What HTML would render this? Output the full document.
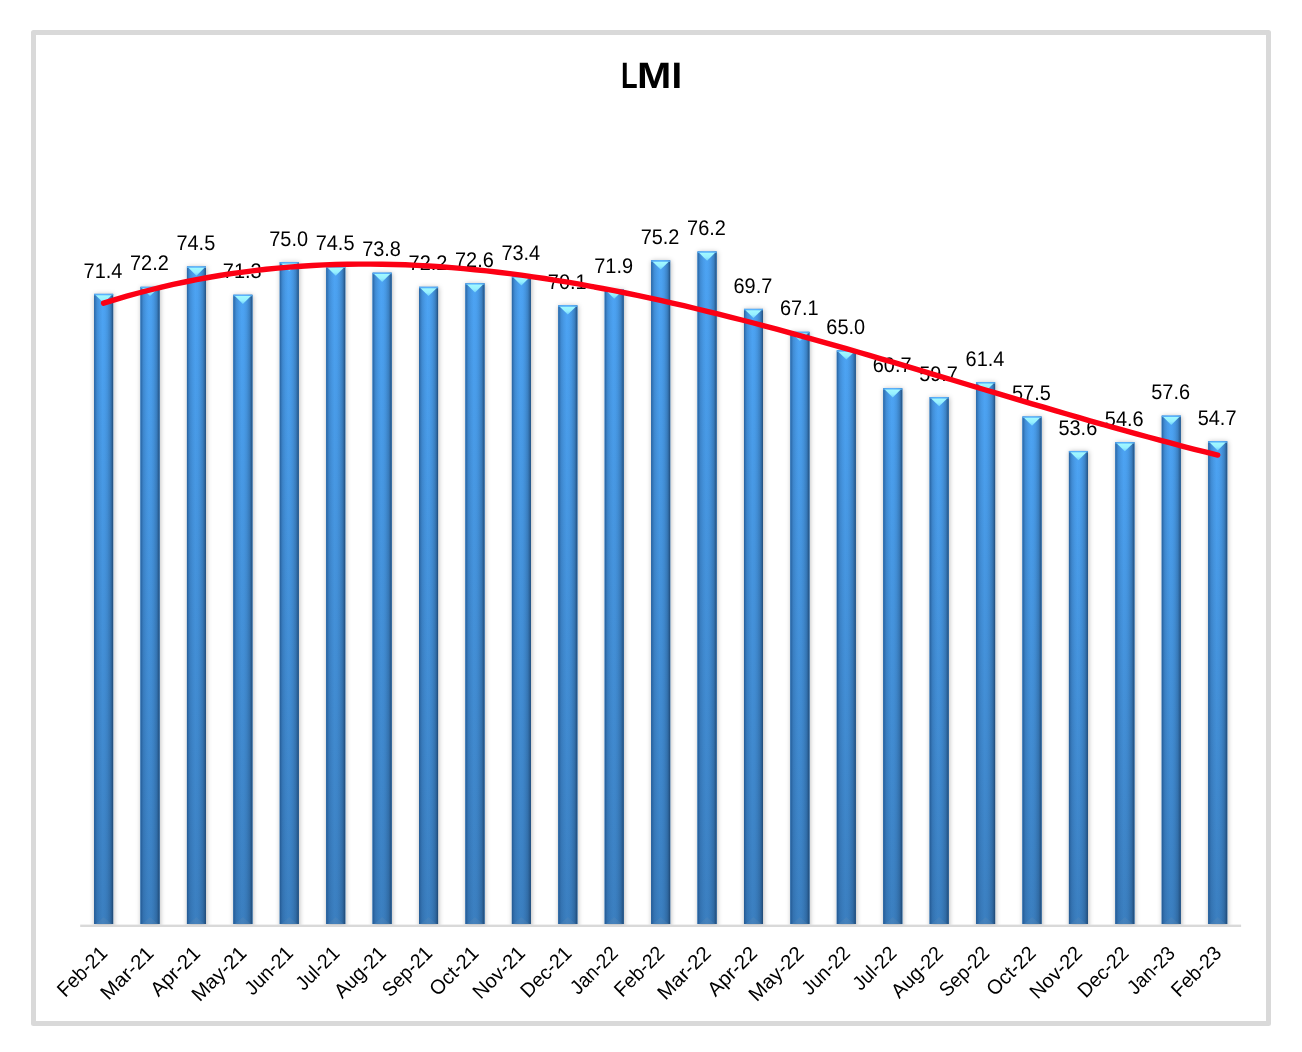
<!DOCTYPE html>
<html><head><meta charset="utf-8"><title>LMI</title>
<style>
html,body{margin:0;padding:0;background:#fff;}
body{width:1302px;height:1052px;overflow:hidden;position:relative;font-family:"Liberation Sans",sans-serif;}
svg{position:absolute;left:0;top:0;display:block;will-change:transform;}
text{font-family:"Liberation Sans",sans-serif;fill:#000;text-rendering:geometricPrecision;}
.dl{font-size:21.2px;text-anchor:middle;}
.cl{font-size:20.2px;text-anchor:end;}
.ttl{font-size:35.5px;font-weight:bold;text-anchor:middle;}
</style></head><body>
<svg width="1302" height="1052" viewBox="0 0 1302 1052">
<defs>
<linearGradient id="gv" x1="0" y1="0" x2="0" y2="1" gradientUnits="objectBoundingBox">
<stop offset="0" stop-color="#4da4f4"/><stop offset="1" stop-color="#3b7fc0"/>
</linearGradient>
<linearGradient id="gh" x1="0" y1="0" x2="1" y2="0">
<stop offset="0" stop-color="#17457a" stop-opacity="0.7"/>
<stop offset="0.07" stop-color="#1b4a80" stop-opacity="0.48"/>
<stop offset="0.16" stop-color="#1f4f85" stop-opacity="0.26"/>
<stop offset="0.3" stop-color="#1f4f85" stop-opacity="0.1"/>
<stop offset="0.44" stop-color="#1f4f85" stop-opacity="0"/>
<stop offset="0.56" stop-color="#1f4f85" stop-opacity="0.03"/>
<stop offset="0.7" stop-color="#1c446f" stop-opacity="0.14"/>
<stop offset="0.84" stop-color="#1c446f" stop-opacity="0.34"/>
<stop offset="0.93" stop-color="#1a3f68" stop-opacity="0.58"/>
<stop offset="1" stop-color="#183a60" stop-opacity="0.82"/>
</linearGradient>
<linearGradient id="gt" x1="0" y1="0" x2="0" y2="1">
<stop offset="0" stop-color="#a2f9ff"/><stop offset="0.55" stop-color="#96f0ff"/><stop offset="1" stop-color="#6fd0fb"/>
</linearGradient>
<filter id="sh" x="-60%" y="-5%" width="220%" height="110%">
<feGaussianBlur stdDeviation="2.4"/>
</filter>
<filter id="noop" x="0" y="0" width="1302" height="1052" filterUnits="userSpaceOnUse"><feOffset dx="0" dy="0"/></filter>
<clipPath id="cpb"><rect x="0" y="0" width="1302" height="924.6"/></clipPath>
</defs>
<rect x="33.5" y="32.5" width="1235" height="991" fill="#fff" stroke="#d9d9d9" stroke-width="5" stroke-linejoin="round"/>

<rect x="80.2" y="924.6" width="1160.9" height="2.4" fill="#d9d9d9"/>
<g clip-path="url(#cpb)"><g filter="url(#sh)" fill="#000" fill-opacity="0.3">
<rect x="94.71" y="294.39" width="19.00" height="639.61"/>
<rect x="141.13" y="287.34" width="19.00" height="646.66"/>
<rect x="187.55" y="267.04" width="19.00" height="666.96"/>
<rect x="233.97" y="295.28" width="19.00" height="638.72"/>
<rect x="280.39" y="262.62" width="19.00" height="671.38"/>
<rect x="326.81" y="267.04" width="19.00" height="666.96"/>
<rect x="373.23" y="273.22" width="19.00" height="660.78"/>
<rect x="419.65" y="287.34" width="19.00" height="646.66"/>
<rect x="466.07" y="283.81" width="19.00" height="650.19"/>
<rect x="512.49" y="276.75" width="19.00" height="657.25"/>
<rect x="558.91" y="305.87" width="19.00" height="628.13"/>
<rect x="605.33" y="289.98" width="19.00" height="644.02"/>
<rect x="651.75" y="260.86" width="19.00" height="673.14"/>
<rect x="698.17" y="252.04" width="19.00" height="681.96"/>
<rect x="744.59" y="309.40" width="19.00" height="624.60"/>
<rect x="791.01" y="332.34" width="19.00" height="601.66"/>
<rect x="837.43" y="350.88" width="19.00" height="583.12"/>
<rect x="883.85" y="388.82" width="19.00" height="545.18"/>
<rect x="930.27" y="397.65" width="19.00" height="536.35"/>
<rect x="976.69" y="382.65" width="19.00" height="551.35"/>
<rect x="1023.11" y="417.06" width="19.00" height="516.94"/>
<rect x="1069.53" y="451.48" width="19.00" height="482.52"/>
<rect x="1115.95" y="442.66" width="19.00" height="491.34"/>
<rect x="1162.37" y="416.18" width="19.00" height="517.82"/>
<rect x="1208.79" y="441.77" width="19.00" height="492.23"/>
</g></g>
<g transform="translate(94.11,293.89)">
<rect width="19.0" height="630.11" fill="#4da4f4"/>
<rect width="19.0" height="630.11" fill="url(#gv)"/>
<rect width="19.0" height="630.11" fill="url(#gh)"/>
<rect width="19.0" height="1.5" fill="#5cb6ff" fill-opacity="0.85"/>
<polygon points="1.5,1.3 17.5,1.3 9.5,9.2" fill="url(#gt)"/>
<polygon points="1.5,630.11 17.5,630.11 9.5,623.11" fill="#6b8fb0" fill-opacity="0.22"/>
</g>
<g transform="translate(140.53,286.84)">
<rect width="19.0" height="637.16" fill="#4da4f4"/>
<rect width="19.0" height="637.16" fill="url(#gv)"/>
<rect width="19.0" height="637.16" fill="url(#gh)"/>
<rect width="19.0" height="1.5" fill="#5cb6ff" fill-opacity="0.85"/>
<polygon points="1.5,1.3 17.5,1.3 9.5,9.2" fill="url(#gt)"/>
<polygon points="1.5,637.16 17.5,637.16 9.5,630.16" fill="#6b8fb0" fill-opacity="0.22"/>
</g>
<g transform="translate(186.95,266.54)">
<rect width="19.0" height="657.46" fill="#4da4f4"/>
<rect width="19.0" height="657.46" fill="url(#gv)"/>
<rect width="19.0" height="657.46" fill="url(#gh)"/>
<rect width="19.0" height="1.5" fill="#5cb6ff" fill-opacity="0.85"/>
<polygon points="1.5,1.3 17.5,1.3 9.5,9.2" fill="url(#gt)"/>
<polygon points="1.5,657.46 17.5,657.46 9.5,650.46" fill="#6b8fb0" fill-opacity="0.22"/>
</g>
<g transform="translate(233.37,294.78)">
<rect width="19.0" height="629.22" fill="#4da4f4"/>
<rect width="19.0" height="629.22" fill="url(#gv)"/>
<rect width="19.0" height="629.22" fill="url(#gh)"/>
<rect width="19.0" height="1.5" fill="#5cb6ff" fill-opacity="0.85"/>
<polygon points="1.5,1.3 17.5,1.3 9.5,9.2" fill="url(#gt)"/>
<polygon points="1.5,629.22 17.5,629.22 9.5,622.22" fill="#6b8fb0" fill-opacity="0.22"/>
</g>
<g transform="translate(279.79,262.12)">
<rect width="19.0" height="661.88" fill="#4da4f4"/>
<rect width="19.0" height="661.88" fill="url(#gv)"/>
<rect width="19.0" height="661.88" fill="url(#gh)"/>
<rect width="19.0" height="1.5" fill="#5cb6ff" fill-opacity="0.85"/>
<polygon points="1.5,1.3 17.5,1.3 9.5,9.2" fill="url(#gt)"/>
<polygon points="1.5,661.88 17.5,661.88 9.5,654.88" fill="#6b8fb0" fill-opacity="0.22"/>
</g>
<g transform="translate(326.21,266.54)">
<rect width="19.0" height="657.46" fill="#4da4f4"/>
<rect width="19.0" height="657.46" fill="url(#gv)"/>
<rect width="19.0" height="657.46" fill="url(#gh)"/>
<rect width="19.0" height="1.5" fill="#5cb6ff" fill-opacity="0.85"/>
<polygon points="1.5,1.3 17.5,1.3 9.5,9.2" fill="url(#gt)"/>
<polygon points="1.5,657.46 17.5,657.46 9.5,650.46" fill="#6b8fb0" fill-opacity="0.22"/>
</g>
<g transform="translate(372.63,272.72)">
<rect width="19.0" height="651.28" fill="#4da4f4"/>
<rect width="19.0" height="651.28" fill="url(#gv)"/>
<rect width="19.0" height="651.28" fill="url(#gh)"/>
<rect width="19.0" height="1.5" fill="#5cb6ff" fill-opacity="0.85"/>
<polygon points="1.5,1.3 17.5,1.3 9.5,9.2" fill="url(#gt)"/>
<polygon points="1.5,651.28 17.5,651.28 9.5,644.28" fill="#6b8fb0" fill-opacity="0.22"/>
</g>
<g transform="translate(419.05,286.84)">
<rect width="19.0" height="637.16" fill="#4da4f4"/>
<rect width="19.0" height="637.16" fill="url(#gv)"/>
<rect width="19.0" height="637.16" fill="url(#gh)"/>
<rect width="19.0" height="1.5" fill="#5cb6ff" fill-opacity="0.85"/>
<polygon points="1.5,1.3 17.5,1.3 9.5,9.2" fill="url(#gt)"/>
<polygon points="1.5,637.16 17.5,637.16 9.5,630.16" fill="#6b8fb0" fill-opacity="0.22"/>
</g>
<g transform="translate(465.47,283.31)">
<rect width="19.0" height="640.69" fill="#4da4f4"/>
<rect width="19.0" height="640.69" fill="url(#gv)"/>
<rect width="19.0" height="640.69" fill="url(#gh)"/>
<rect width="19.0" height="1.5" fill="#5cb6ff" fill-opacity="0.85"/>
<polygon points="1.5,1.3 17.5,1.3 9.5,9.2" fill="url(#gt)"/>
<polygon points="1.5,640.69 17.5,640.69 9.5,633.69" fill="#6b8fb0" fill-opacity="0.22"/>
</g>
<g transform="translate(511.89,276.25)">
<rect width="19.0" height="647.75" fill="#4da4f4"/>
<rect width="19.0" height="647.75" fill="url(#gv)"/>
<rect width="19.0" height="647.75" fill="url(#gh)"/>
<rect width="19.0" height="1.5" fill="#5cb6ff" fill-opacity="0.85"/>
<polygon points="1.5,1.3 17.5,1.3 9.5,9.2" fill="url(#gt)"/>
<polygon points="1.5,647.75 17.5,647.75 9.5,640.75" fill="#6b8fb0" fill-opacity="0.22"/>
</g>
<g transform="translate(558.31,305.37)">
<rect width="19.0" height="618.63" fill="#4da4f4"/>
<rect width="19.0" height="618.63" fill="url(#gv)"/>
<rect width="19.0" height="618.63" fill="url(#gh)"/>
<rect width="19.0" height="1.5" fill="#5cb6ff" fill-opacity="0.85"/>
<polygon points="1.5,1.3 17.5,1.3 9.5,9.2" fill="url(#gt)"/>
<polygon points="1.5,618.63 17.5,618.63 9.5,611.63" fill="#6b8fb0" fill-opacity="0.22"/>
</g>
<g transform="translate(604.73,289.48)">
<rect width="19.0" height="634.52" fill="#4da4f4"/>
<rect width="19.0" height="634.52" fill="url(#gv)"/>
<rect width="19.0" height="634.52" fill="url(#gh)"/>
<rect width="19.0" height="1.5" fill="#5cb6ff" fill-opacity="0.85"/>
<polygon points="1.5,1.3 17.5,1.3 9.5,9.2" fill="url(#gt)"/>
<polygon points="1.5,634.52 17.5,634.52 9.5,627.52" fill="#6b8fb0" fill-opacity="0.22"/>
</g>
<g transform="translate(651.15,260.36)">
<rect width="19.0" height="663.64" fill="#4da4f4"/>
<rect width="19.0" height="663.64" fill="url(#gv)"/>
<rect width="19.0" height="663.64" fill="url(#gh)"/>
<rect width="19.0" height="1.5" fill="#5cb6ff" fill-opacity="0.85"/>
<polygon points="1.5,1.3 17.5,1.3 9.5,9.2" fill="url(#gt)"/>
<polygon points="1.5,663.64 17.5,663.64 9.5,656.64" fill="#6b8fb0" fill-opacity="0.22"/>
</g>
<g transform="translate(697.57,251.54)">
<rect width="19.0" height="672.46" fill="#4da4f4"/>
<rect width="19.0" height="672.46" fill="url(#gv)"/>
<rect width="19.0" height="672.46" fill="url(#gh)"/>
<rect width="19.0" height="1.5" fill="#5cb6ff" fill-opacity="0.85"/>
<polygon points="1.5,1.3 17.5,1.3 9.5,9.2" fill="url(#gt)"/>
<polygon points="1.5,672.46 17.5,672.46 9.5,665.46" fill="#6b8fb0" fill-opacity="0.22"/>
</g>
<g transform="translate(743.99,308.90)">
<rect width="19.0" height="615.10" fill="#4da4f4"/>
<rect width="19.0" height="615.10" fill="url(#gv)"/>
<rect width="19.0" height="615.10" fill="url(#gh)"/>
<rect width="19.0" height="1.5" fill="#5cb6ff" fill-opacity="0.85"/>
<polygon points="1.5,1.3 17.5,1.3 9.5,9.2" fill="url(#gt)"/>
<polygon points="1.5,615.10 17.5,615.10 9.5,608.10" fill="#6b8fb0" fill-opacity="0.22"/>
</g>
<g transform="translate(790.41,331.84)">
<rect width="19.0" height="592.16" fill="#4da4f4"/>
<rect width="19.0" height="592.16" fill="url(#gv)"/>
<rect width="19.0" height="592.16" fill="url(#gh)"/>
<rect width="19.0" height="1.5" fill="#5cb6ff" fill-opacity="0.85"/>
<polygon points="1.5,1.3 17.5,1.3 9.5,9.2" fill="url(#gt)"/>
<polygon points="1.5,592.16 17.5,592.16 9.5,585.16" fill="#6b8fb0" fill-opacity="0.22"/>
</g>
<g transform="translate(836.83,350.38)">
<rect width="19.0" height="573.62" fill="#4da4f4"/>
<rect width="19.0" height="573.62" fill="url(#gv)"/>
<rect width="19.0" height="573.62" fill="url(#gh)"/>
<rect width="19.0" height="1.5" fill="#5cb6ff" fill-opacity="0.85"/>
<polygon points="1.5,1.3 17.5,1.3 9.5,9.2" fill="url(#gt)"/>
<polygon points="1.5,573.62 17.5,573.62 9.5,566.62" fill="#6b8fb0" fill-opacity="0.22"/>
</g>
<g transform="translate(883.25,388.32)">
<rect width="19.0" height="535.68" fill="#4da4f4"/>
<rect width="19.0" height="535.68" fill="url(#gv)"/>
<rect width="19.0" height="535.68" fill="url(#gh)"/>
<rect width="19.0" height="1.5" fill="#5cb6ff" fill-opacity="0.85"/>
<polygon points="1.5,1.3 17.5,1.3 9.5,9.2" fill="url(#gt)"/>
<polygon points="1.5,535.68 17.5,535.68 9.5,528.68" fill="#6b8fb0" fill-opacity="0.22"/>
</g>
<g transform="translate(929.67,397.15)">
<rect width="19.0" height="526.85" fill="#4da4f4"/>
<rect width="19.0" height="526.85" fill="url(#gv)"/>
<rect width="19.0" height="526.85" fill="url(#gh)"/>
<rect width="19.0" height="1.5" fill="#5cb6ff" fill-opacity="0.85"/>
<polygon points="1.5,1.3 17.5,1.3 9.5,9.2" fill="url(#gt)"/>
<polygon points="1.5,526.85 17.5,526.85 9.5,519.85" fill="#6b8fb0" fill-opacity="0.22"/>
</g>
<g transform="translate(976.09,382.15)">
<rect width="19.0" height="541.85" fill="#4da4f4"/>
<rect width="19.0" height="541.85" fill="url(#gv)"/>
<rect width="19.0" height="541.85" fill="url(#gh)"/>
<rect width="19.0" height="1.5" fill="#5cb6ff" fill-opacity="0.85"/>
<polygon points="1.5,1.3 17.5,1.3 9.5,9.2" fill="url(#gt)"/>
<polygon points="1.5,541.85 17.5,541.85 9.5,534.85" fill="#6b8fb0" fill-opacity="0.22"/>
</g>
<g transform="translate(1022.51,416.56)">
<rect width="19.0" height="507.44" fill="#4da4f4"/>
<rect width="19.0" height="507.44" fill="url(#gv)"/>
<rect width="19.0" height="507.44" fill="url(#gh)"/>
<rect width="19.0" height="1.5" fill="#5cb6ff" fill-opacity="0.85"/>
<polygon points="1.5,1.3 17.5,1.3 9.5,9.2" fill="url(#gt)"/>
<polygon points="1.5,507.44 17.5,507.44 9.5,500.44" fill="#6b8fb0" fill-opacity="0.22"/>
</g>
<g transform="translate(1068.93,450.98)">
<rect width="19.0" height="473.02" fill="#4da4f4"/>
<rect width="19.0" height="473.02" fill="url(#gv)"/>
<rect width="19.0" height="473.02" fill="url(#gh)"/>
<rect width="19.0" height="1.5" fill="#5cb6ff" fill-opacity="0.85"/>
<polygon points="1.5,1.3 17.5,1.3 9.5,9.2" fill="url(#gt)"/>
<polygon points="1.5,473.02 17.5,473.02 9.5,466.02" fill="#6b8fb0" fill-opacity="0.22"/>
</g>
<g transform="translate(1115.35,442.16)">
<rect width="19.0" height="481.84" fill="#4da4f4"/>
<rect width="19.0" height="481.84" fill="url(#gv)"/>
<rect width="19.0" height="481.84" fill="url(#gh)"/>
<rect width="19.0" height="1.5" fill="#5cb6ff" fill-opacity="0.85"/>
<polygon points="1.5,1.3 17.5,1.3 9.5,9.2" fill="url(#gt)"/>
<polygon points="1.5,481.84 17.5,481.84 9.5,474.84" fill="#6b8fb0" fill-opacity="0.22"/>
</g>
<g transform="translate(1161.77,415.68)">
<rect width="19.0" height="508.32" fill="#4da4f4"/>
<rect width="19.0" height="508.32" fill="url(#gv)"/>
<rect width="19.0" height="508.32" fill="url(#gh)"/>
<rect width="19.0" height="1.5" fill="#5cb6ff" fill-opacity="0.85"/>
<polygon points="1.5,1.3 17.5,1.3 9.5,9.2" fill="url(#gt)"/>
<polygon points="1.5,508.32 17.5,508.32 9.5,501.32" fill="#6b8fb0" fill-opacity="0.22"/>
</g>
<g transform="translate(1208.19,441.27)">
<rect width="19.0" height="482.73" fill="#4da4f4"/>
<rect width="19.0" height="482.73" fill="url(#gv)"/>
<rect width="19.0" height="482.73" fill="url(#gh)"/>
<rect width="19.0" height="1.5" fill="#5cb6ff" fill-opacity="0.85"/>
<polygon points="1.5,1.3 17.5,1.3 9.5,9.2" fill="url(#gt)"/>
<polygon points="1.5,482.73 17.5,482.73 9.5,475.73" fill="#6b8fb0" fill-opacity="0.22"/>
</g>
<g filter="url(#noop)">
<text class="dl" x="103.01" y="277.50" textLength="38.8" lengthAdjust="spacingAndGlyphs">71.4</text>
<text class="dl" x="149.43" y="270.44" textLength="38.8" lengthAdjust="spacingAndGlyphs">72.2</text>
<text class="dl" x="195.85" y="250.14" textLength="38.8" lengthAdjust="spacingAndGlyphs">74.5</text>
<text class="dl" x="242.27" y="278.38" textLength="38.8" lengthAdjust="spacingAndGlyphs">71.3</text>
<text class="dl" x="288.69" y="245.72" textLength="38.8" lengthAdjust="spacingAndGlyphs">75.0</text>
<text class="dl" x="335.11" y="250.14" textLength="38.8" lengthAdjust="spacingAndGlyphs">74.5</text>
<text class="dl" x="381.53" y="256.32" textLength="38.8" lengthAdjust="spacingAndGlyphs">73.8</text>
<text class="dl" x="427.95" y="270.44" textLength="38.8" lengthAdjust="spacingAndGlyphs">72.2</text>
<text class="dl" x="474.37" y="266.91" textLength="38.8" lengthAdjust="spacingAndGlyphs">72.6</text>
<text class="dl" x="520.79" y="259.85" textLength="38.8" lengthAdjust="spacingAndGlyphs">73.4</text>
<text class="dl" x="567.21" y="288.97" textLength="38.8" lengthAdjust="spacingAndGlyphs">70.1</text>
<text class="dl" x="613.63" y="273.08" textLength="38.8" lengthAdjust="spacingAndGlyphs">71.9</text>
<text class="dl" x="660.05" y="243.96" textLength="38.8" lengthAdjust="spacingAndGlyphs">75.2</text>
<text class="dl" x="706.47" y="235.14" textLength="38.8" lengthAdjust="spacingAndGlyphs">76.2</text>
<text class="dl" x="752.89" y="292.50" textLength="38.8" lengthAdjust="spacingAndGlyphs">69.7</text>
<text class="dl" x="799.31" y="315.44" textLength="38.8" lengthAdjust="spacingAndGlyphs">67.1</text>
<text class="dl" x="845.73" y="333.98" textLength="38.8" lengthAdjust="spacingAndGlyphs">65.0</text>
<text class="dl" x="892.15" y="371.92" textLength="38.8" lengthAdjust="spacingAndGlyphs">60.7</text>
<text class="dl" x="938.57" y="380.75" textLength="38.8" lengthAdjust="spacingAndGlyphs">59.7</text>
<text class="dl" x="984.99" y="365.75" textLength="38.8" lengthAdjust="spacingAndGlyphs">61.4</text>
<text class="dl" x="1031.41" y="400.16" textLength="38.8" lengthAdjust="spacingAndGlyphs">57.5</text>
<text class="dl" x="1077.83" y="434.58" textLength="38.8" lengthAdjust="spacingAndGlyphs">53.6</text>
<text class="dl" x="1124.25" y="425.76" textLength="38.8" lengthAdjust="spacingAndGlyphs">54.6</text>
<text class="dl" x="1170.67" y="399.28" textLength="38.8" lengthAdjust="spacingAndGlyphs">57.6</text>
<text class="dl" x="1217.09" y="424.87" textLength="38.8" lengthAdjust="spacingAndGlyphs">54.7</text>
<polyline points="103.6,303.2 115.2,299.6 126.8,296.2 138.4,293.0 150.0,290.0 161.6,287.1 173.2,284.4 184.8,282.0 196.5,279.6 208.1,277.5 219.7,275.5 231.3,273.7 242.9,272.1 254.5,270.6 266.1,269.3 277.7,268.1 289.3,267.1 300.9,266.2 312.5,265.5 324.1,264.9 335.7,264.5 347.3,264.2 358.9,264.1 370.5,264.1 382.1,264.2 393.7,264.5 405.3,264.8 416.9,265.4 428.6,266.0 440.2,266.7 451.8,267.6 463.4,268.6 475.0,269.7 486.6,270.9 498.2,272.2 509.8,273.6 521.4,275.2 533.0,276.8 544.6,278.5 556.2,280.3 567.8,282.2 579.4,284.2 591.0,286.3 602.6,288.5 614.2,290.7 625.8,293.0 637.4,295.4 649.0,297.9 660.6,300.4 672.3,303.1 683.9,305.7 695.5,308.5 707.1,311.3 718.7,314.1 730.3,317.1 741.9,320.0 753.5,323.0 765.1,326.1 776.7,329.2 788.3,332.4 799.9,335.6 811.5,338.8 823.1,342.1 834.7,345.4 846.3,348.7 857.9,352.0 869.5,355.4 881.1,358.8 892.8,362.2 904.4,365.7 916.0,369.1 927.6,372.6 939.2,376.1 950.8,379.5 962.4,383.0 974.0,386.5 985.6,390.0 997.2,393.4 1008.8,396.9 1020.4,400.4 1032.0,403.8 1043.6,407.2 1055.2,410.6 1066.8,414.0 1078.4,417.4 1090.0,420.8 1101.6,424.1 1113.2,427.4 1124.9,430.6 1136.5,433.8 1148.1,437.0 1159.7,440.1 1171.3,443.2 1182.9,446.3 1194.5,449.3 1206.1,452.2 1217.7,455.1" fill="none" stroke="#fc0014" stroke-width="5.4" stroke-linecap="round" stroke-linejoin="round"/>
<text class="cl" transform="translate(108.61,954.5) rotate(-45)" textLength="61.4" lengthAdjust="spacingAndGlyphs">Feb-21</text>
<text class="cl" transform="translate(155.03,954.5) rotate(-45)" textLength="65.8" lengthAdjust="spacingAndGlyphs">Mar-21</text>
<text class="cl" transform="translate(201.45,954.5) rotate(-45)" textLength="60.7" lengthAdjust="spacingAndGlyphs">Apr-21</text>
<text class="cl" transform="translate(247.87,954.5) rotate(-45)" textLength="68.0" lengthAdjust="spacingAndGlyphs">May-21</text>
<text class="cl" transform="translate(294.29,954.5) rotate(-45)" textLength="58.9" lengthAdjust="spacingAndGlyphs">Jun-21</text>
<text class="cl" transform="translate(340.71,954.5) rotate(-45)" textLength="52.4" lengthAdjust="spacingAndGlyphs">Jul-21</text>
<text class="cl" transform="translate(387.13,954.5) rotate(-45)" textLength="63.4" lengthAdjust="spacingAndGlyphs">Aug-21</text>
<text class="cl" transform="translate(433.55,954.5) rotate(-45)" textLength="61.4" lengthAdjust="spacingAndGlyphs">Sep-21</text>
<text class="cl" transform="translate(479.97,954.5) rotate(-45)" textLength="60.0" lengthAdjust="spacingAndGlyphs">Oct-21</text>
<text class="cl" transform="translate(526.39,954.5) rotate(-45)" textLength="64.5" lengthAdjust="spacingAndGlyphs">Nov-21</text>
<text class="cl" transform="translate(572.81,954.5) rotate(-45)" textLength="62.5" lengthAdjust="spacingAndGlyphs">Dec-21</text>
<text class="cl" transform="translate(619.23,954.5) rotate(-45)" textLength="57.9" lengthAdjust="spacingAndGlyphs">Jan-22</text>
<text class="cl" transform="translate(665.65,954.5) rotate(-45)" textLength="61.4" lengthAdjust="spacingAndGlyphs">Feb-22</text>
<text class="cl" transform="translate(712.07,954.5) rotate(-45)" textLength="65.8" lengthAdjust="spacingAndGlyphs">Mar-22</text>
<text class="cl" transform="translate(758.49,954.5) rotate(-45)" textLength="60.7" lengthAdjust="spacingAndGlyphs">Apr-22</text>
<text class="cl" transform="translate(804.91,954.5) rotate(-45)" textLength="68.0" lengthAdjust="spacingAndGlyphs">May-22</text>
<text class="cl" transform="translate(851.33,954.5) rotate(-45)" textLength="58.9" lengthAdjust="spacingAndGlyphs">Jun-22</text>
<text class="cl" transform="translate(897.75,954.5) rotate(-45)" textLength="52.4" lengthAdjust="spacingAndGlyphs">Jul-22</text>
<text class="cl" transform="translate(944.17,954.5) rotate(-45)" textLength="63.4" lengthAdjust="spacingAndGlyphs">Aug-22</text>
<text class="cl" transform="translate(990.59,954.5) rotate(-45)" textLength="61.4" lengthAdjust="spacingAndGlyphs">Sep-22</text>
<text class="cl" transform="translate(1037.01,954.5) rotate(-45)" textLength="60.0" lengthAdjust="spacingAndGlyphs">Oct-22</text>
<text class="cl" transform="translate(1083.43,954.5) rotate(-45)" textLength="64.5" lengthAdjust="spacingAndGlyphs">Nov-22</text>
<text class="cl" transform="translate(1129.85,954.5) rotate(-45)" textLength="62.5" lengthAdjust="spacingAndGlyphs">Dec-22</text>
<text class="cl" transform="translate(1176.27,954.5) rotate(-45)" textLength="57.9" lengthAdjust="spacingAndGlyphs">Jan-23</text>
<text class="cl" transform="translate(1222.69,954.5) rotate(-45)" textLength="61.4" lengthAdjust="spacingAndGlyphs">Feb-23</text>
<text class="ttl" y="88.4" style="text-rendering:geometricPrecision;text-anchor:start;font-size:36.8px"><tspan x="620.91" textLength="16.62" lengthAdjust="spacingAndGlyphs">L</tspan><tspan x="637.09" textLength="34.31" lengthAdjust="spacingAndGlyphs">M</tspan><tspan x="671.50" textLength="10.65" lengthAdjust="spacingAndGlyphs">I</tspan></text>
</g>
</svg></body></html>
